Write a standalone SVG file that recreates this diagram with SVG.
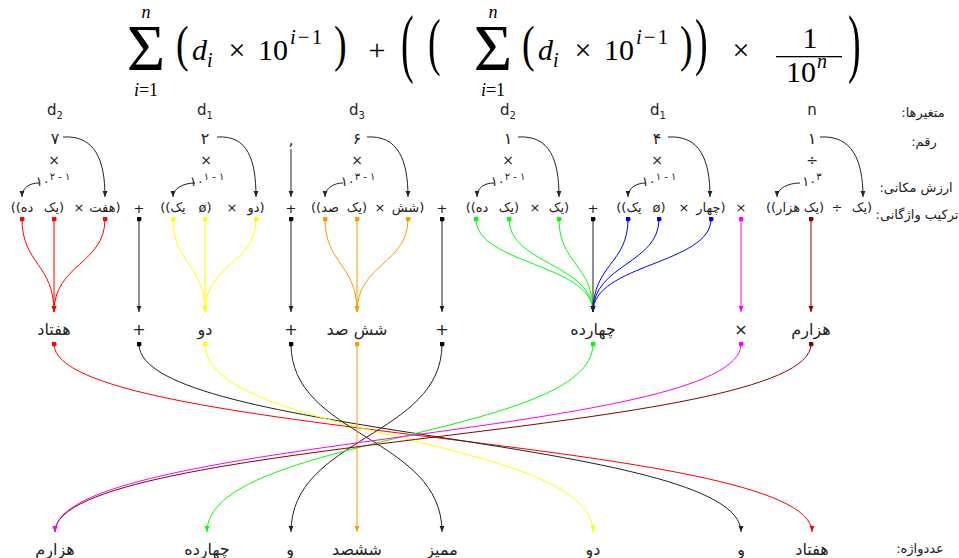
<svg xmlns="http://www.w3.org/2000/svg" width="959" height="558" viewBox="0 0 959 558">
<style>
.m{font-family:"Liberation Serif","DejaVu Serif",serif;fill:#000}
.it{font-style:italic}
.t{font-family:"DejaVu Sans","Noto Sans",sans-serif;fill:#222;text-anchor:middle}
.w{font-size:13px;direction:rtl}
.dg{font-size:16px}
.x{font-size:14px}
.v{font-size:15px}
.big{font-size:16px;direction:rtl}
.lbl{font-size:13px;direction:rtl}
.pw{font-size:13px}
.c path{fill:none;stroke-width:1}
.k{stroke:#222}
.r{stroke:#ff0000}
.y{stroke:#ffff00}
.o{stroke:#ff9900}
.g{stroke:#00ff00}
.b{stroke:#0000ff}
.mg{stroke:#ff00ff}
.dr{stroke:#8b0000}
</style>
<defs>
<marker id="ak" viewBox="0 0 6 6" refX="6" refY="3" markerWidth="6" markerHeight="6" markerUnits="userSpaceOnUse" orient="auto"><path d="M0,0.6 L6,3 L0,5.4 z" fill="#222"/></marker>
<marker id="ar" viewBox="0 0 6 6" refX="6" refY="3" markerWidth="6" markerHeight="6" markerUnits="userSpaceOnUse" orient="auto"><path d="M0,0.6 L6,3 L0,5.4 z" fill="#ff0000"/></marker>
<marker id="ay" viewBox="0 0 6 6" refX="6" refY="3" markerWidth="6" markerHeight="6" markerUnits="userSpaceOnUse" orient="auto"><path d="M0,0.6 L6,3 L0,5.4 z" fill="#ffff00"/></marker>
<marker id="ao" viewBox="0 0 6 6" refX="6" refY="3" markerWidth="6" markerHeight="6" markerUnits="userSpaceOnUse" orient="auto"><path d="M0,0.6 L6,3 L0,5.4 z" fill="#ff9900"/></marker>
<marker id="ag" viewBox="0 0 6 6" refX="6" refY="3" markerWidth="6" markerHeight="6" markerUnits="userSpaceOnUse" orient="auto"><path d="M0,0.6 L6,3 L0,5.4 z" fill="#00ff00"/></marker>
<marker id="ab" viewBox="0 0 6 6" refX="6" refY="3" markerWidth="6" markerHeight="6" markerUnits="userSpaceOnUse" orient="auto"><path d="M0,0.6 L6,3 L0,5.4 z" fill="#0000ff"/></marker>
<marker id="am" viewBox="0 0 6 6" refX="6" refY="3" markerWidth="6" markerHeight="6" markerUnits="userSpaceOnUse" orient="auto"><path d="M0,0.6 L6,3 L0,5.4 z" fill="#ff00ff"/></marker>
<marker id="ad" viewBox="0 0 6 6" refX="6" refY="3" markerWidth="6" markerHeight="6" markerUnits="userSpaceOnUse" orient="auto"><path d="M0,0.6 L6,3 L0,5.4 z" fill="#8b0000"/></marker>
<marker id="dk" viewBox="0 0 6 6" refX="3" refY="3" markerWidth="5" markerHeight="5" markerUnits="userSpaceOnUse"><circle cx="3" cy="3" r="3" fill="#000"/></marker>
<marker id="dr" viewBox="0 0 6 6" refX="3" refY="3" markerWidth="5" markerHeight="5" markerUnits="userSpaceOnUse"><circle cx="3" cy="3" r="3" fill="#ff0000"/></marker>
<marker id="dy" viewBox="0 0 6 6" refX="3" refY="3" markerWidth="5" markerHeight="5" markerUnits="userSpaceOnUse"><circle cx="3" cy="3" r="3" fill="#ffff00"/></marker>
<marker id="do" viewBox="0 0 6 6" refX="3" refY="3" markerWidth="5" markerHeight="5" markerUnits="userSpaceOnUse"><circle cx="3" cy="3" r="3" fill="#ff9900"/></marker>
<marker id="dg" viewBox="0 0 6 6" refX="3" refY="3" markerWidth="5" markerHeight="5" markerUnits="userSpaceOnUse"><circle cx="3" cy="3" r="3" fill="#00ff00"/></marker>
<marker id="db" viewBox="0 0 6 6" refX="3" refY="3" markerWidth="5" markerHeight="5" markerUnits="userSpaceOnUse"><circle cx="3" cy="3" r="3" fill="#0000ff"/></marker>
<marker id="dm" viewBox="0 0 6 6" refX="3" refY="3" markerWidth="5" markerHeight="5" markerUnits="userSpaceOnUse"><circle cx="3" cy="3" r="3" fill="#ff00ff"/></marker>
<marker id="dd" viewBox="0 0 6 6" refX="3" refY="3" markerWidth="5" markerHeight="5" markerUnits="userSpaceOnUse"><circle cx="3" cy="3" r="3" fill="#8b0000"/></marker>
</defs>
<rect width="959" height="558" fill="#fff"/>

<g id="formula" class="m">
 <text x="146" y="70" font-size="66" text-anchor="middle">Σ</text>
 <text x="146" y="18" font-size="18" class="it" text-anchor="middle">n</text>
 <text x="146" y="96" font-size="18" text-anchor="middle"><tspan class="it">i</tspan>=1</text>
 <text transform="translate(176,0) scale(1,1.35)" y="45.3" font-size="38">(</text>
 <text x="192" y="60" font-size="30" class="it">d</text>
 <text x="207" y="67" font-size="20" class="it">i</text>
 <text x="237" y="60" font-size="30" text-anchor="middle">×</text>
 <text x="258" y="60" font-size="30">10</text>
 <text x="290" y="44" font-size="21" letter-spacing="2"><tspan class="it">i</tspan>−1</text>
 <text transform="translate(334,0) scale(1,1.35)" y="45.3" font-size="38">)</text>
 <text x="377" y="60" font-size="30" text-anchor="middle">+</text>
 <text transform="translate(401,0) scale(1,2)" y="34" font-size="38">(</text>
 <text transform="translate(428,0) scale(1,1.65)" y="38" font-size="38">(</text>
 <text x="493" y="70" font-size="66" text-anchor="middle">Σ</text>
 <text x="493" y="18" font-size="18" class="it" text-anchor="middle">n</text>
 <text x="493" y="96" font-size="18" text-anchor="middle"><tspan class="it">i</tspan>=1</text>
 <text transform="translate(522,0) scale(1,1.35)" y="45.3" font-size="38">(</text>
 <text x="538" y="60" font-size="30" class="it">d</text>
 <text x="553" y="67" font-size="20" class="it">i</text>
 <text x="583" y="60" font-size="30" text-anchor="middle">×</text>
 <text x="604" y="60" font-size="30">10</text>
 <text x="636" y="44" font-size="21" letter-spacing="2"><tspan class="it">i</tspan>−1</text>
 <text transform="translate(680,0) scale(1,1.35)" y="45.3" font-size="38">)</text>
 <text transform="translate(695,0) scale(1,1.65)" y="38" font-size="38">)</text>
 <text x="741" y="60" font-size="30" text-anchor="middle">×</text>
 <text x="810" y="48" font-size="30" text-anchor="middle">1</text>
 <rect x="776" y="56" width="66" height="1.3" fill="#000"/>
 <text x="786" y="82" font-size="30">10</text>
 <text x="817" y="68" font-size="20" class="it">n</text>
 <text transform="translate(848,0) scale(1,2)" y="34" font-size="38">)</text>
</g>

<g id="row-labels" class="t lbl">
 <text x="923" y="117">متغیرها:</text>
 <text x="924" y="146">رقم:</text>
 <text x="916" y="192">ارزش مکانی:</text>
 <text x="917" y="219">ترکیب واژگانی:</text>
 <text x="920" y="553">عددواژه:</text>
</g>

<g id="col-70" class="t">
 <text x="55" y="115" class="v">d<tspan font-size="10" dy="4">2</tspan></text>
 <text x="55" y="144" class="dg">۷</text>
 <text x="54" y="165" class="x">×</text>
 <text x="53" y="186" class="pw">۱۰<tspan font-size="10" dy="-6">۲ - ۱</tspan></text>
 <text x="22" y="212" class="w">ده))</text>
 <text x="54" y="212" class="w">(یک</text>
 <text x="79" y="212" class="w">×</text>
 <text x="105" y="212" class="w">(هفت</text>
</g>
<g id="col-plus1" class="t"><text x="139" y="213" class="w">+</text></g>
<g id="col-2" class="t">
 <text x="205" y="115" class="v">d<tspan font-size="10" dy="4">1</tspan></text>
 <text x="205" y="144" class="dg">۲</text>
 <text x="206" y="165" class="x">×</text>
 <text x="207" y="186" class="pw">۱۰<tspan font-size="10" dy="-6">۱ - ۱</tspan></text>
 <text x="173" y="212" class="w">یک))</text>
 <text x="205" y="212" class="w">(ø</text>
 <text x="232" y="212" class="w">×</text>
 <text x="256" y="212" class="w">(دو</text>
</g>
<g id="col-sep" class="t">
 <text x="291" y="145" class="dg">,</text>
 <text x="291" y="213" class="w">+</text>
</g>
<g id="col-600" class="t">
 <text x="357" y="115" class="v">d<tspan font-size="10" dy="4">3</tspan></text>
 <text x="357" y="144" class="dg">۶</text>
 <text x="357" y="165" class="x">×</text>
 <text x="358" y="186" class="pw">۱۰<tspan font-size="10" dy="-6">۳ - ۱</tspan></text>
 <text x="325" y="212" class="w">صد))</text>
 <text x="357" y="212" class="w">(یک</text>
 <text x="380" y="212" class="w">×</text>
 <text x="408" y="212" class="w">(شش</text>
</g>
<g id="col-plus2" class="t"><text x="442" y="213" class="w">+</text></g>
<g id="col-10" class="t">
 <text x="508" y="115" class="v">d<tspan font-size="10" dy="4">2</tspan></text>
 <text x="508" y="144" class="dg">۱</text>
 <text x="508" y="165" class="x">×</text>
 <text x="508" y="186" class="pw">۱۰<tspan font-size="10" dy="-6">۲ - ۱</tspan></text>
 <text x="477" y="212" class="w">ده))</text>
 <text x="509" y="212" class="w">(یک</text>
 <text x="535" y="212" class="w">×</text>
 <text x="559" y="212" class="w">(یک</text>
</g>
<g id="col-plus3" class="t"><text x="593" y="213" class="w">+</text></g>
<g id="col-4" class="t">
 <text x="658" y="115" class="v">d<tspan font-size="10" dy="4">1</tspan></text>
 <text x="657" y="144" class="dg">۴</text>
 <text x="657" y="165" class="x">×</text>
 <text x="659" y="186" class="pw">۱۰<tspan font-size="10" dy="-6">۱ - ۱</tspan></text>
 <text x="629" y="212" class="w">یک))</text>
 <text x="659" y="212" class="w">(ø</text>
 <text x="684" y="212" class="w">×</text>
 <text x="711" y="212" class="w">(چهار</text>
</g>
<g id="col-times" class="t"><text x="741" y="212" class="w">×</text></g>
<g id="col-n" class="t">
 <text x="812" y="115" class="v">n</text>
 <text x="812" y="144" class="dg">۱</text>
 <text x="812" y="165" class="x">÷</text>
 <text x="812" y="186" class="pw">۱۰<tspan font-size="10" dy="-6">۳</tspan></text>
 <text x="783" y="212" class="w">هزار))</text>
 <text x="814" y="212" class="w">(یک</text>
 <text x="837" y="212" class="w">÷</text>
 <text x="862" y="212" class="w">(یک</text>
</g>

<g id="mid-labels" class="t big">
 <g id="mid-70"><text x="54" y="335">هفتاد</text></g>
 <g id="mid-p1"><text x="139" y="335">+</text></g>
 <g id="mid-2"><text x="205" y="335">دو</text></g>
 <g id="mid-p2"><text x="291" y="335">+</text></g>
 <g id="mid-600"><text x="357" y="335">شش صد</text></g>
 <g id="mid-p3"><text x="442" y="335">+</text></g>
 <g id="mid-14"><text x="593" y="335">چهارده</text></g>
 <g id="mid-x"><text x="741" y="335">×</text></g>
 <g id="mid-1000"><text x="811" y="335">هزارم</text></g>
</g>

<g id="bottom-labels" class="t big">
 <g id="b-1000"><text x="55" y="555">هزارم</text></g>
 <g id="b-14"><text x="207" y="555">چهارده</text></g>
 <g id="b-and1"><text x="290" y="555">و</text></g>
 <g id="b-600"><text x="357" y="555">ششصد</text></g>
 <g id="b-dec"><text x="442" y="555">ممیز</text></g>
 <g id="b-2"><text x="593" y="555">دو</text></g>
 <g id="b-and2"><text x="741" y="555">و</text></g>
 <g id="b-70"><text x="812" y="555">هفتاد</text></g>
</g>

<g id="connectors" class="c">
 <g class="k" marker-end="url(#ak)">
  <path d="M63,137 C95,135 105,160 105,197"/>
  <path d="M39,183 C29,183 22,188 22,197"/>
  <path d="M217,137 C248,135 256,160 256,197"/>
  <path d="M195,183 C184,183 173,188 173,197"/>
  <path d="M367,137 C398,135 408,160 408,197"/>
  <path d="M343,183 C334,183 325,188 325,197"/>
  <path d="M518,137 C550,135 559,160 559,197"/>
  <path d="M494,183 C484,183 477,188 477,197"/>
  <path d="M668,137 C700,135 710,160 710,197"/>
  <path d="M646,183 C636,183 628,188 628,197"/>
  <path d="M820,137 C852,135 863,160 863,197"/>
  <path d="M800,183 C789,183 777,188 777,197"/>
  <path d="M291,149 L291,197"/>
 </g>
 <g class="r" marker-start="url(#dr)" marker-end="url(#ar)">
  <path d="M22,219 C22,264 54,264 54,312"/>
  <path d="M105,219 C105,264 54,264 54,312"/>
  <path d="M54,219 L54,312"/>
 </g>
 <g class="y" marker-start="url(#dy)" marker-end="url(#ay)">
  <path d="M173,219 C173,264 205,264 205,312"/>
  <path d="M256,219 C256,264 205,264 205,312"/>
  <path d="M205,219 L205,312"/>
 </g>
 <g class="o" marker-start="url(#do)" marker-end="url(#ao)">
  <path d="M325,219 C325,264 357,264 357,312"/>
  <path d="M408,219 C408,264 357,264 357,312"/>
  <path d="M357,219 L357,312"/>
 </g>
 <g class="g" marker-start="url(#dg)" marker-end="url(#ag)">
  <path d="M476,219 C476,264 593,264 593,312"/>
  <path d="M509,219 C509,264 593,264 593,312"/>
  <path d="M559,219 C559,264 593,264 593,312"/>
 </g>
 <g class="b" marker-start="url(#db)" marker-end="url(#ab)">
  <path d="M628,219 C628,264 593,264 593,312"/>
  <path d="M659,219 C659,264 593,264 593,312"/>
  <path d="M711,219 C711,264 593,264 593,312"/>
 </g>
 <g class="k" marker-start="url(#dk)" marker-end="url(#ak)">
  <path d="M139,219 L139,312"/>
  <path d="M291,219 L291,312"/>
  <path d="M442,219 L442,312"/>
  <path d="M593,219 L593,312"/>
 </g>
 <path class="mg" marker-start="url(#dm)" marker-end="url(#am)" d="M741,219 L741,312"/>
 <path class="dr" marker-start="url(#dd)" marker-end="url(#ad)" d="M811,219 L811,312"/>

 <path class="r" marker-start="url(#dr)" marker-end="url(#ar)" d="M54,344 C54,437 812,437 812,532"/>
 <path class="k" marker-start="url(#dk)" marker-end="url(#ak)" d="M139,344 C139,437 741,437 741,532"/>
 <path class="y" marker-start="url(#dy)" marker-end="url(#ay)" d="M205,344 C205,437 593,437 593,532"/>
 <path class="k" marker-start="url(#dk)" marker-end="url(#ak)" d="M291,344 C291,437 442,437 442,532"/>
 <path class="o" marker-start="url(#do)" marker-end="url(#ao)" d="M357,344 L357,532"/>
 <path class="k" marker-start="url(#dk)" marker-end="url(#ak)" d="M442,344 C442,437 291,437 291,532"/>
 <path class="g" marker-start="url(#dg)" marker-end="url(#ag)" d="M593,344 C593,437 207,437 207,532"/>
 <path class="dr" marker-start="url(#dd)" marker-end="url(#ad)" d="M811,344 C811,437 55,437 55,532"/>
 <path class="mg" marker-start="url(#dm)" marker-end="url(#am)" d="M741,344 C741,437 55,437 55,532"/>
</g>
</svg>
